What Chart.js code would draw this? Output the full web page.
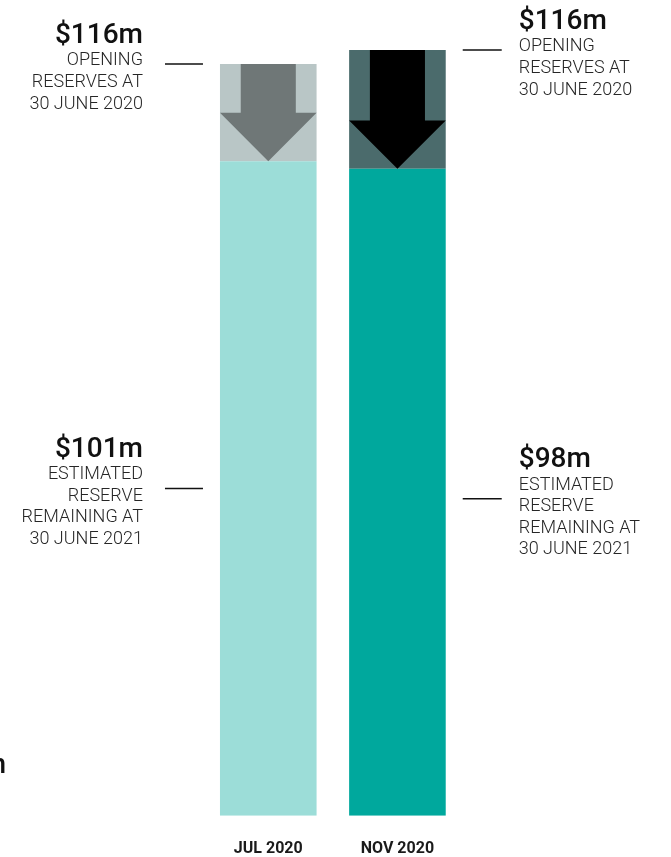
<!DOCTYPE html>
<html>
<head>
<meta charset="utf-8">
<script src="https://cdn.jsdelivr.net/npm/chart.js@4/dist/chart.umd.min.js"></script>
<style>
  html, body { margin: 0; padding: 0; background: #fff; }
  #wrap { width: 671px; height: 857px; position: relative; }
</style>
</head>
<body>
<div id="wrap"><canvas id="chartReserves"></canvas></div>
<script>
const categories = ['JUL 2020', 'NOV 2020'];
const openingReserves = [116, 116];
const remainingReserves = [101, 98];
const drawdown = [15, 18];
// where the lower label line sits on each bar (value units)
const midLabelAt = [50.5, 48];
const topLabelLines = ['OPENING', 'RESERVES AT', '30 JUNE 2020'];
const midLabelLines = ['ESTIMATED', 'RESERVE', 'REMAINING AT', '30 JUNE 2021'];

const FONT = 'Roboto, "DejaVu Sans", sans-serif';

const reservePlugin = {
    id: 'reserveNotes',
    afterDatasetsDraw(chart) {
        const ctx = chart.ctx;
        const arrowColors = ['#6f7777', '#000000'];
        const topSets = [1, 3];
        const baseSets = [0, 2];
        const axes = ['y', 'y2'];

        ctx.save();
        for (let i = 0; i < categories.length; i++) {
            // arrow inside the drawdown block
            const el = chart.getDatasetMeta(topSets[i]).data[i];
            const p = el.getProps(['x', 'y', 'base', 'width'], true);
            const half = p.width / 2;
            const shaft = p.width * 0.285;
            const headTop = p.base - half;
            ctx.fillStyle = arrowColors[i];
            ctx.beginPath();
            ctx.moveTo(p.x - shaft, p.y);
            ctx.lineTo(p.x + shaft, p.y);
            ctx.lineTo(p.x + shaft, headTop);
            ctx.lineTo(p.x + half, headTop);
            ctx.lineTo(p.x, p.base);
            ctx.lineTo(p.x - half, headTop);
            ctx.lineTo(p.x - shaft, headTop);
            ctx.closePath();
            ctx.fill();

            // side notes
            const scale = chart.scales[axes[i]];
            const bar = chart.getDatasetMeta(baseSets[i]).data[i].getProps(['x', 'width'], true);
            const left = i === 0;
            let x1, x2, tx;
            if (left) {
                x2 = bar.x - bar.width / 2 - 17;
                x1 = x2 - 38;
                tx = x1 - 22;
            } else {
                x1 = bar.x + bar.width / 2 + 17;
                x2 = x1 + 39;
                tx = x2 + 17;
            }
            const notes = [
                { y: scale.getPixelForValue(openingReserves[i]), head: '$' + openingReserves[i] + 'm', lines: topLabelLines },
                { y: scale.getPixelForValue(midLabelAt[i]), head: '$' + remainingReserves[i] + 'm', lines: midLabelLines }
            ];
            notes.forEach(n => {
                ctx.strokeStyle = '#111';
                ctx.lineWidth = 1.5;
                ctx.beginPath();
                ctx.moveTo(x1, n.y);
                ctx.lineTo(x2, n.y);
                ctx.stroke();

                const hy = n.y - 21 - (n.lines.length - 3) * 10.8;
                ctx.textAlign = left ? 'right' : 'left';
                ctx.textBaseline = 'alphabetic';
                ctx.fillStyle = '#111';
                ctx.font = '500 28px ' + FONT;
                ctx.fillText(n.head, tx, hy);
                ctx.fillStyle = '#262626';
                ctx.font = '300 18px ' + FONT;
                n.lines.forEach((t, k) => ctx.fillText(t, tx, hy + 22.5 + k * 21.6));
            });
        }
        // clipped text fragment at the left edge
        ctx.fillStyle = '#111';
        ctx.font = '500 28px ' + FONT;
        ctx.textAlign = 'right';
        ctx.fillText('n', 6, 773);
        ctx.restore();
    }
};

const ctxReserves = document.getElementById('chartReserves').getContext('2d');
const chartReserves = new Chart(ctxReserves, {
    type: 'bar',
    data: {
        labels: categories,
        datasets: [
            { data: [remainingReserves[0], null], backgroundColor: '#9cddd8', yAxisID: 'y', stack: 's' },
            { data: [drawdown[0], null], backgroundColor: '#b9c6c6', yAxisID: 'y', stack: 's' },
            { data: [null, remainingReserves[1]], backgroundColor: '#00a89d', yAxisID: 'y2', stack: 's' },
            { data: [null, drawdown[1]], backgroundColor: '#4b6b6c', yAxisID: 'y2', stack: 's' }
        ]
    },
    options: {
        animation: false,
        responsive: true,
        maintainAspectRatio: false,
        barPercentage: 0.748,
        categoryPercentage: 1,
        layout: { padding: { top: 38, left: 203.7, right: 209, bottom: 0 } },
        plugins: {
            legend: { display: false },
            tooltip: { enabled: false }
        },
        scales: {
            x: {
                stacked: true,
                grid: { display: false, drawTicks: false },
                border: { display: false },
                afterFit(scale) { scale.height = 41.3; },
                ticks: {
                    padding: 24,
                    color: '#1a1a1a',
                    font: { family: FONT, size: 16, weight: 'bold' }
                }
            },
            y: { stacked: true, display: false, min: 0, max: 120 },
            y2: { stacked: true, display: false, min: 0, max: 117.8 }
        }
    },
    plugins: [reservePlugin]
});
</script>
</body>
</html>
